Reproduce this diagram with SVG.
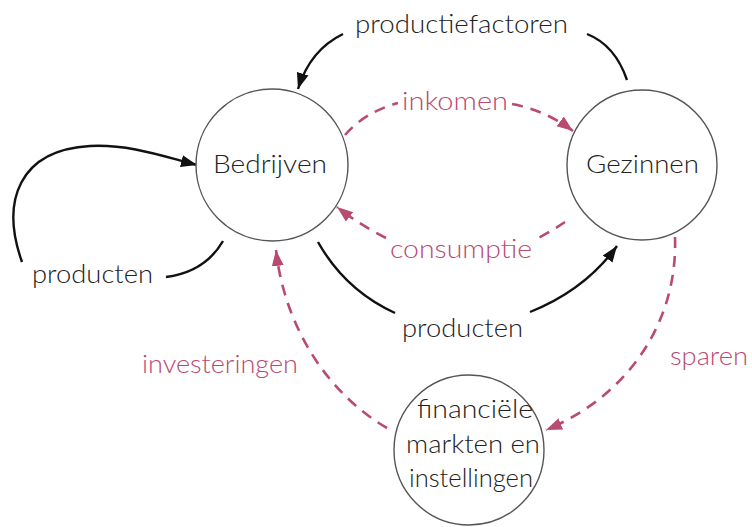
<svg xmlns="http://www.w3.org/2000/svg" width="752" height="527" viewBox="0 0 752 527">
<style>
.node{fill:#fff;stroke:#555;stroke-width:1.4}
.t{font-family:Lato,"Open Sans","Liberation Sans",sans-serif;font-weight:300;font-size:25px;fill:#222}
.p{fill:#b94a72}
.c{text-anchor:middle}
.blk{fill:none;stroke:#111;stroke-width:2.4}
.pk{fill:none;stroke:#b94a72;stroke-width:2.6;stroke-dasharray:11 8}
</style>
<defs>
<marker id="ab" markerUnits="userSpaceOnUse" markerWidth="18" markerHeight="14" refX="16" refY="7" orient="auto"><path d="M0,1 L16,7 L0,13 Z" fill="#111"/></marker>
<marker id="ap" markerUnits="userSpaceOnUse" markerWidth="18" markerHeight="14" refX="16" refY="7" orient="auto"><path d="M0,1 L16,7 L0,13 Z" fill="#b94a72"/></marker>
</defs>
<rect width="752" height="527" fill="#fff"/>
<g id="connectors">
<path class="blk" d="M343,34 Q310,50 298,89" marker-end="url(#ab)"/>
<path class="blk" d="M587,34 Q615,45 627,80"/>
<path class="pk" d="M345,135 Q365,112 398,103"/>
<path class="pk" d="M512,104 Q545,110 573,131" marker-end="url(#ap)"/>
<path class="pk" d="M565,222 Q550,232 533,241"/>
<path class="pk" d="M386,238 Q360,225 337,207" marker-end="url(#ap)"/>
<path class="blk" d="M318,242 Q345,290 395,313"/>
<path class="blk" d="M530,312 Q585,290 617,246" marker-end="url(#ab)"/>
<path class="blk" d="M223,241 Q205,272 166,277"/>
<path class="blk" d="M22,262 C0,200 20,150 90,146 C130,144 165,157 197,165" marker-end="url(#ab)"/>
<path class="pk" d="M387,428 C330,395 285,330 276,250" marker-end="url(#ap)"/>
<path class="pk" d="M675,237 C678,320 630,395 546,430" marker-end="url(#ap)"/>
<text class="t" x="355" y="33" textLength="213" lengthAdjust="spacingAndGlyphs">productiefactoren</text>
<text class="t p" x="402" y="110" textLength="106" lengthAdjust="spacingAndGlyphs">inkomen</text>
<text class="t p" x="390" y="258" textLength="142" lengthAdjust="spacingAndGlyphs">consumptie</text>
<text class="t" x="402" y="337" textLength="121" lengthAdjust="spacingAndGlyphs">producten</text>
<text class="t" x="32" y="283" textLength="121" lengthAdjust="spacingAndGlyphs">producten</text>
<text class="t p" x="142" y="373" textLength="156" lengthAdjust="spacingAndGlyphs">investeringen</text>
<text class="t p" x="670" y="365" textLength="78" lengthAdjust="spacingAndGlyphs">sparen</text>
</g>
<g id="bedrijven">
<circle class="node" cx="272" cy="165" r="76"/>
<text class="t" x="213" y="173" textLength="114" lengthAdjust="spacingAndGlyphs">Bedrijven</text>
</g>
<g id="gezinnen">
<circle class="node" cx="642" cy="165" r="75"/>
<text class="t" x="586" y="173" textLength="113" lengthAdjust="spacingAndGlyphs">Gezinnen</text>
</g>
<g id="financiele">
<circle class="node" cx="469" cy="450" r="75"/>
<text class="t" x="417" y="418" textLength="116" lengthAdjust="spacingAndGlyphs">financiële</text>
<text class="t" x="406" y="453" textLength="134" lengthAdjust="spacingAndGlyphs">markten en</text>
<text class="t" x="409" y="487" textLength="124" lengthAdjust="spacingAndGlyphs">instellingen</text>
</g>
</svg>
